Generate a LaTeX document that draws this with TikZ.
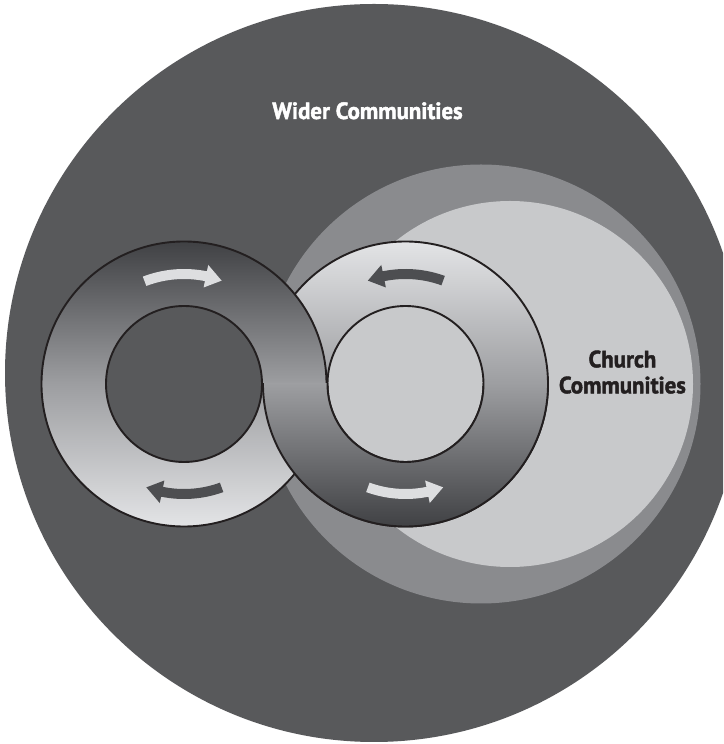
\documentclass[tikz,border=0pt]{standalone}
\usepackage{fontspec}
\newfontfamily\labelfont{PT Sans}[FakeStretch=0.97,FakeBold=1.8]
\definecolor{bgdark}{HTML}{58595B}
\definecolor{churchmid}{HTML}{8A8B8E}
\definecolor{churchlight}{HTML}{C8C9CB}
\definecolor{arrowlight}{HTML}{DDDEE0}
\definecolor{arrowdark}{HTML}{4D4E51}
\definecolor{inkblack}{HTML}{231F20}
\definecolor{ringdark}{HTML}{404144}
\definecolor{ringmid}{HTML}{9D9EA1}
\definecolor{ringlight}{HTML}{E3E4E6}
\newcommand\ringarrow[5]{% centre, tail angle, head base angle, tip angle, colour
  \fill[#5, shift={(#1)}] (#2:115pt) arc[start angle=#2, end angle=#3, radius=115pt]
    -- (#3:121.5pt) -- (#4:110pt) -- (#3:98.5pt) -- (#3:105pt)
    arc[start angle=#3, end angle=#2, radius=105pt] -- cycle;
}
\begin{document}
\begin{tikzpicture}[x=1pt,y=1pt,
  leftshade/.style={even odd rule, top color=ringdark, bottom color=ringlight, middle color=ringmid},
  rightshade/.style={even odd rule, top color=ringlight, bottom color=ringdark, middle color=ringmid},
  ringline/.style={draw=inkblack, line width=1.9pt},
  labeltext/.style={font=\labelfont\bfseries\fontsize{23.5}{26}\selectfont, inner sep=0pt, anchor=base}]
\fill[white] (0,0) rectangle (723,744);
\clip (0,0) rectangle (723,744);
\coordinate (W) at (374,371);
\coordinate (CO) at (481,360);
\coordinate (CI) at (510,360);
\coordinate (L) at (184,360);
\coordinate (R) at (405.5,360);
% backgrounds
\fill[bgdark] (W) circle[radius=369pt];
\fill[churchmid] (CO) circle[radius=219.5pt];
\fill[churchlight] (CI) circle[radius=183pt];
% right ring
\path[rightshade] (R) circle[radius=142.5pt] (R) circle[radius=78pt];
\draw[ringline] (R) circle[radius=142.5pt] (R) circle[radius=78pt];
% left ring (on top in the upper half)
\path[leftshade] (L) circle[radius=142.5pt] (L) circle[radius=78pt];
\draw[ringline] (L) circle[radius=142.5pt] (L) circle[radius=78pt];
% right ring again over the lower half of the crossing
\begin{scope}
  \clip (0,0) rectangle (723,360);
  \path[rightshade] (R) circle[radius=142.5pt] (R) circle[radius=78pt];
  \draw[ringline] (R) circle[radius=142.5pt] (R) circle[radius=78pt];
\end{scope}
% arrows
\ringarrow{L}{111}{78.5}{70}{arrowlight}
\ringarrow{L}{-70}{-101.5}{-110}{arrowdark}
\ringarrow{R}{70}{101.5}{110}{arrowdark}
\ringarrow{R}{-110}{-78.5}{-70}{arrowlight}
% labels
\node[labeltext, text=white] (wider) at (367.5,625) {Wider Communities};
\node[labeltext, text=inkblack] (church1) at (622.4,376.7) {Church};
\node[labeltext, text=inkblack] (church2) at (622.4,350.7) {Communities};
\end{tikzpicture}
\end{document}
